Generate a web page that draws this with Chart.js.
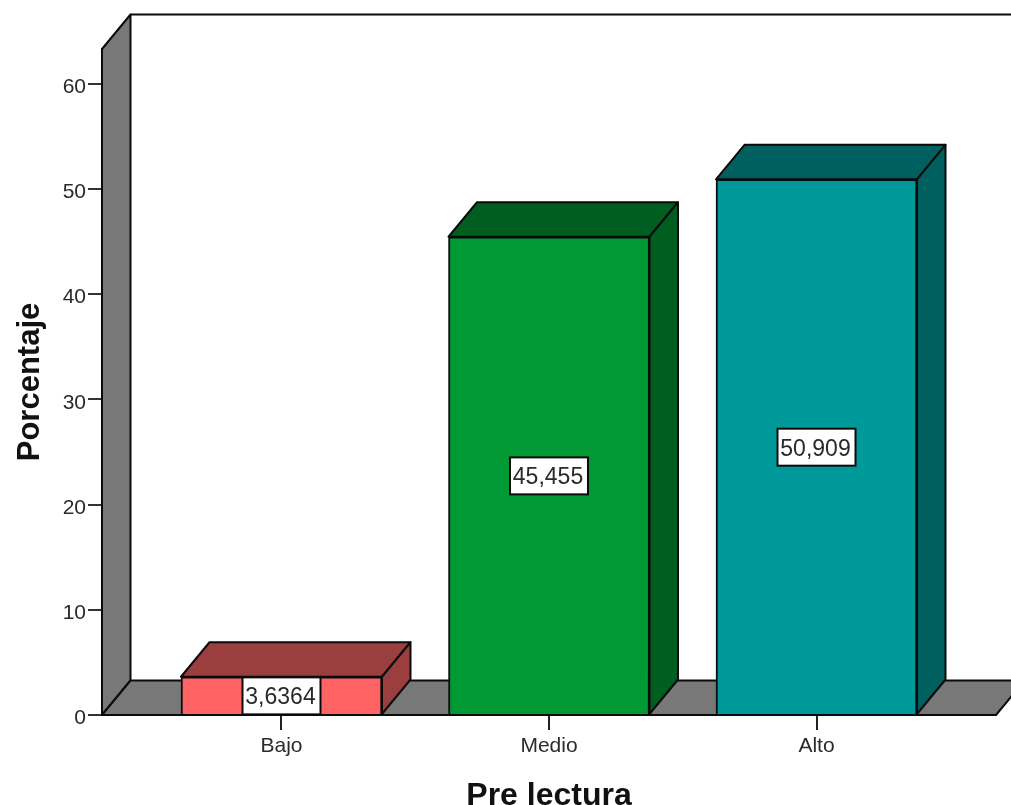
<!DOCTYPE html>
<html>
<head>
<meta charset="utf-8">
<style>
  html, body { margin: 0; padding: 0; background: #ffffff; overflow: hidden; }
  #wrap { position: relative; width: 1011px; height: 805px; }
</style>
<script src="https://cdn.jsdelivr.net/npm/chart.js@4"></script>
</head>
<body>
<div id="wrap"><canvas id="chart" width="1011" height="805"></canvas></div>
<script>
// Percentage of students per reading level
const categories = ['Bajo', 'Medio', 'Alto'];
const percentages = [3.6364, 45.455, 50.909];
const valueLabels = ['3,6364', '45,455', '50,909'];
const yTicks = [0, 10, 20, 30, 40, 50, 60];

const frontColors = ['#ff6363', '#009933', '#009999'];
const shadeColors = ['#9a3e3e', '#005f20', '#005f5f'];

// Oblique extrusion of the pseudo-3D frame
const DEPTH_X = 28.5;
const DEPTH_Y = -34.5;
const WALL = '#787878';
const EDGE = '#0b0b0b';
const FONT = '"Liberation Sans", Arial, sans-serif';

function polygon(ctx, pts, fill) {
  ctx.beginPath();
  pts.forEach((p, i) => i ? ctx.lineTo(p[0], p[1]) : ctx.moveTo(p[0], p[1]));
  ctx.closePath();
  ctx.fillStyle = fill;
  ctx.fill();
  ctx.lineWidth = 2;
  ctx.strokeStyle = EDGE;
  ctx.lineJoin = 'round';
  ctx.stroke();
}

// Back wall outline, side wall and floor behind the bars
const framePlugin = {
  id: 'frame',
  beforeDatasetsDraw(chart) {
    const { ctx, chartArea: a } = chart;
    const l = a.left, r = a.right, t = a.top, b = a.bottom;
    ctx.save();
    polygon(ctx, [[l, t], [l + DEPTH_X, t + DEPTH_Y], [l + DEPTH_X, b + DEPTH_Y], [l, b]], WALL);
    polygon(ctx, [[l, b], [l + DEPTH_X, b + DEPTH_Y], [r + DEPTH_X, b + DEPTH_Y], [r, b]], WALL);
    ctx.beginPath();
    ctx.moveTo(l + DEPTH_X, t + DEPTH_Y);
    ctx.lineTo(r + DEPTH_X, t + DEPTH_Y);
    ctx.lineWidth = 2;
    ctx.strokeStyle = EDGE;
    ctx.stroke();
    ctx.restore();
  }
};

// Top and side faces of each bar, then the value boxes over the fronts
const barFacesPlugin = {
  id: 'barFaces',
  beforeDatasetDraw(chart) {
    const { ctx } = chart;
    ctx.save();
    chart.getDatasetMeta(0).data.forEach((bar, i) => {
      const half = bar.width / 2;
      const l = bar.x - half, r = bar.x + half, t = bar.y, b = bar.base;
      polygon(ctx, [[l, t], [l + DEPTH_X, t + DEPTH_Y], [r + DEPTH_X, t + DEPTH_Y], [r, t]], shadeColors[i]);
      polygon(ctx, [[r, t], [r + DEPTH_X, t + DEPTH_Y], [r + DEPTH_X, b + DEPTH_Y], [r, b]], shadeColors[i]);
    });
    ctx.restore();
  },
  afterDatasetsDraw(chart) {
    const { ctx } = chart;
    const yScale = chart.scales.y;
    ctx.save();
    ctx.font = '23px ' + FONT;
    ctx.textAlign = 'center';
    ctx.textBaseline = 'middle';
    chart.getDatasetMeta(0).data.forEach((bar, i) => {
      const cy = yScale.getPixelForValue(percentages[i] / 2);
      const w = 78, h = 37;
      ctx.fillStyle = '#ffffff';
      ctx.fillRect(bar.x - w / 2, cy - h / 2, w, h);
      ctx.lineWidth = 2;
      ctx.strokeStyle = EDGE;
      ctx.strokeRect(bar.x - w / 2, cy - h / 2, w, h);
      ctx.fillStyle = '#2a2a2a';
      ctx.fillText(valueLabels[i], bar.x - 1, cy + 2);
    });
    ctx.restore();
  }
};

new Chart(document.getElementById('chart'), {
  type: 'bar',
  data: {
    datasets: [{
      data: categories.map((c, i) => ({ x: i, y: percentages[i] })),
      backgroundColor: frontColors,
      borderColor: EDGE,
      borderWidth: 2,
      barThickness: 201
    }]
  },
  plugins: [framePlugin, barFacesPlugin],
  options: {
    responsive: false,
    animation: false,
    layout: { padding: { top: 49, right: 15, left: 0, bottom: 0 } },
    plugins: { legend: { display: false }, tooltip: { enabled: false } },
    scales: {
      x: {
        type: 'linear',
        offset: false,
        min: -0.671,
        max: 2.671,
        afterFit(scale) { scale.height = 90; },
        afterBuildTicks(scale) { scale.ticks = categories.map((c, i) => ({ value: i })); },
        grid: { offset: false, drawOnChartArea: false, drawTicks: true, tickLength: 15, color: '#222222', lineWidth: 2 },
        border: { color: EDGE, width: 2 },
        ticks: {
          autoSkip: false,
          maxRotation: 0,
          padding: 4,
          color: '#2a2a2a',
          font: { family: FONT, size: 21 },
          callback: v => categories[v]
        },
        title: {
          display: true,
          text: 'Pre lectura',
          color: '#111111',
          font: { family: FONT, size: 32, weight: 'bold' },
          padding: { top: 0, bottom: -10 }
        }
      },
      y: {
        min: 0,
        max: 63.3,
        afterFit(scale) { scale.width = 102; },
        afterBuildTicks(scale) { scale.ticks = yTicks.map(v => ({ value: v })); },
        grid: { drawOnChartArea: false, drawTicks: true, tickLength: 14, color: '#333333', lineWidth: 2 },
        border: { color: EDGE, width: 2 },
        ticks: {
          padding: 2,
          color: '#2a2a2a',
          font: { family: FONT, size: 21, lineHeight: 0.33 },
          // The blank first line nudges each number just below its tick
          callback: v => ['', String(v)]
        },
        title: {
          display: true,
          text: 'Porcentaje',
          color: '#111111',
          font: { family: FONT, size: 31, weight: 'bold' },
          padding: { top: 12, bottom: 0 }
        }
      }
    }
  }
});
</script>
</body>
</html>
